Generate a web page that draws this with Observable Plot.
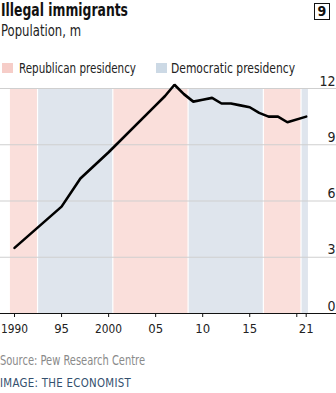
<!DOCTYPE html>
<html><head><meta charset="utf-8">
<script src="https://cdn.jsdelivr.net/npm/d3@7"></script>
<script src="https://cdn.jsdelivr.net/npm/@observablehq/plot@0.6"></script>
<style>
body{margin:0;width:336px;height:393px;overflow:hidden;background:#fff;position:relative;
 font-family:"DejaVu Sans Condensed","DejaVu Sans",sans-serif;font-stretch:condensed;color:#111}
.abs{position:absolute;white-space:nowrap;line-height:1;transform-origin:0 0}
#title{left:1px;top:2px;font-size:17px;font-weight:bold}
#subtitle{left:1px;top:24px;font-size:15px;color:#222}
#badge{left:314px;top:3px;width:14px;height:15px;border:1.5px solid #111;font-size:14px;font-weight:bold;text-align:center;line-height:15px;transform:none}
.leg{top:61px;font-size:14px;color:#222}
.sw{position:absolute;top:63px;width:11px;height:10px}
#chart{position:absolute;left:0;top:70px}
#source{left:0;top:353px;font-size:14px;color:#8a8a8a}
#credit{left:0;top:377px;font-size:12px;color:#34506e;letter-spacing:0.3px}
</style></head>
<body>
<div id="title" class="abs" data-w="127">Illegal immigrants</div>
<div id="subtitle" class="abs" data-w="80">Population, m</div>
<div id="badge" class="abs">9</div>
<div class="sw" style="left:2px;background:#f6cdc8"></div>
<div class="abs leg" style="left:19px" data-w="117">Republican presidency</div>
<div class="sw" style="left:156px;background:#ccd9e5"></div>
<div class="abs leg" style="left:171px" data-w="124">Democratic presidency</div>
<div id="chart"></div>
<div id="source" class="abs" data-w="145">Source: Pew Research Centre</div>
<div id="credit" class="abs" data-w="131">IMAGE: THE ECONOMIST</div>
<script>
const years = [1990,1995,1997,2000,2005,2006,2007,2008,2009,2010,2011,2012,2013,2014,2015,2016,2017,2018,2019,2021];
const population = [3.5,5.7,7.2,8.6,11.1,11.6,12.2,11.7,11.3,11.4,11.5,11.2,11.2,11.1,11.0,10.7,10.5,10.5,10.2,10.5];

const bandStart = [1989.5,1992.5,2000.5,2008.5,2016.5,2020.5];
const bandEnd   = [1992.5,2000.5,2008.5,2016.5,2020.5,2021.3];
const bandParty = ["Republican","Democratic","Republican","Democratic","Republican","Democratic"];
const partyColor = {Republican:"#fadfdb", Democratic:"#dfe5ed"};

const yTicks = [0,3,6,9,12];
const xTicks = [1990,1995,2000,2005,2010,2015,2020,2021];
const xTickLabels = ["1990","95","2000","05","10","15","","21"];

const data = years.map((y,i)=>({year:y, value:population[i]}));
const bands = bandStart.map((s,i)=>({start:s, end:bandEnd[i], party:bandParty[i]}));

const plot = Plot.plot({
  width:336, height:269,
  marginTop:18, marginBottom:26, marginLeft:0, marginRight:0,
  style:{fontSize:"13px", fontFamily:'"DejaVu Sans Condensed","DejaVu Sans",sans-serif', color:"#222", background:"transparent"},
  x:{domain:[1988.51, 2024.22], axis:null},
  y:{domain:[0,12], axis:null},
  marks:[
    Plot.rect(bands, {x1:"start", x2:"end", y1:0, y2:12, fill:d=>partyColor[d.party], insetLeft:0.6, insetRight:0.6}),
    Plot.ruleY(yTicks.filter(d=>d>0), {stroke:"#cfcfcf", strokeWidth:1}),
    Plot.text(yTicks, {x:2024.22, y:d=>d, text:d=>String(d), textAnchor:"end", lineAnchor:"bottom", dy:-3, dx:-1, fill:"#222", fontSize:14}),
    Plot.ruleY([0], {stroke:"#111", strokeWidth:1}),
    Plot.axisX(xTicks, {tickFormat:(d)=>xTickLabels[xTicks.indexOf(d)], tickSize:4, tickPadding:6, stroke:"#111", fill:"#222", fontSize:13}),
    Plot.line(data, {x:"year", y:"value", stroke:"#000", strokeWidth:2.6, strokeLinejoin:"miter"})
  ]
});
document.getElementById("chart").appendChild(plot);

// compress HTML texts horizontally to the reference's condensed widths
document.querySelectorAll("[data-w]").forEach(el=>{
  const w = el.getBoundingClientRect().width;
  const target = +el.dataset.w;
  if (w > 0) el.style.transform = `scaleX(${target / w})`;
});
// condense tick labels so "1990" stays within the frame
d3.select(plot).selectAll("text").each(function(){
  const t = this.textContent;
  if (t.length >= 4) { this.setAttribute("textLength", 27); this.setAttribute("lengthAdjust", "spacingAndGlyphs"); }
});
</script>
</body></html>
